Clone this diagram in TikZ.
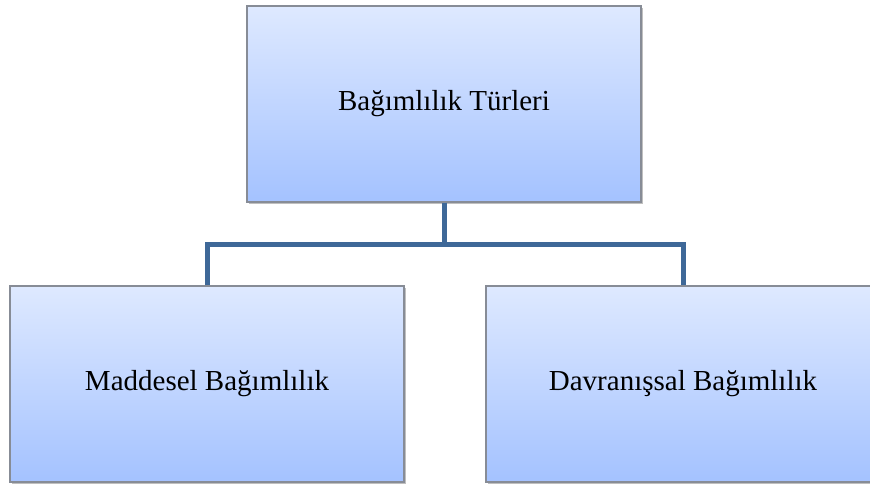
\documentclass[tikz,border=0pt]{standalone}
\usepackage{fontspec}
\setmainfont{Liberation Serif}
\usetikzlibrary{shadows}
\definecolor{boxtop}{RGB}{222,233,255}
\definecolor{boxbot}{RGB}{164,194,255}
\definecolor{boxedge}{RGB}{135,140,150}
\definecolor{linkblue}{RGB}{62,104,152}
\tikzset{
  catbox/.style={draw=boxedge, line width=1.2pt, top color=boxtop, bottom color=boxbot,
    minimum width=394pt, minimum height=196pt, inner sep=0pt,
    font=\fontsize{29}{33}\selectfont,
    drop shadow={shadow xshift=2pt, shadow yshift=-2pt, opacity=0.25, fill=black}},
  link/.style={draw=linkblue, line width=5pt}
}
\begin{document}
\begin{tikzpicture}[x=1pt, y=-1pt]
\useasboundingbox (0,0) rectangle (870,484);
\clip (0,0) rectangle (870,484);
\node[catbox] (top) at (444,104) {Bağımlılık Türleri};
\node[catbox] (left) at (207,384) {Maddesel Bağımlılık};
\node[catbox] (right) at (683,384) {Davranışsal Bağımlılık};
\coordinate (mid) at (444,244);
\draw[link] (top.south) -- (mid);
\draw[link] (left.north) |- (mid) -| (right.north);
\end{tikzpicture}
\end{document}
